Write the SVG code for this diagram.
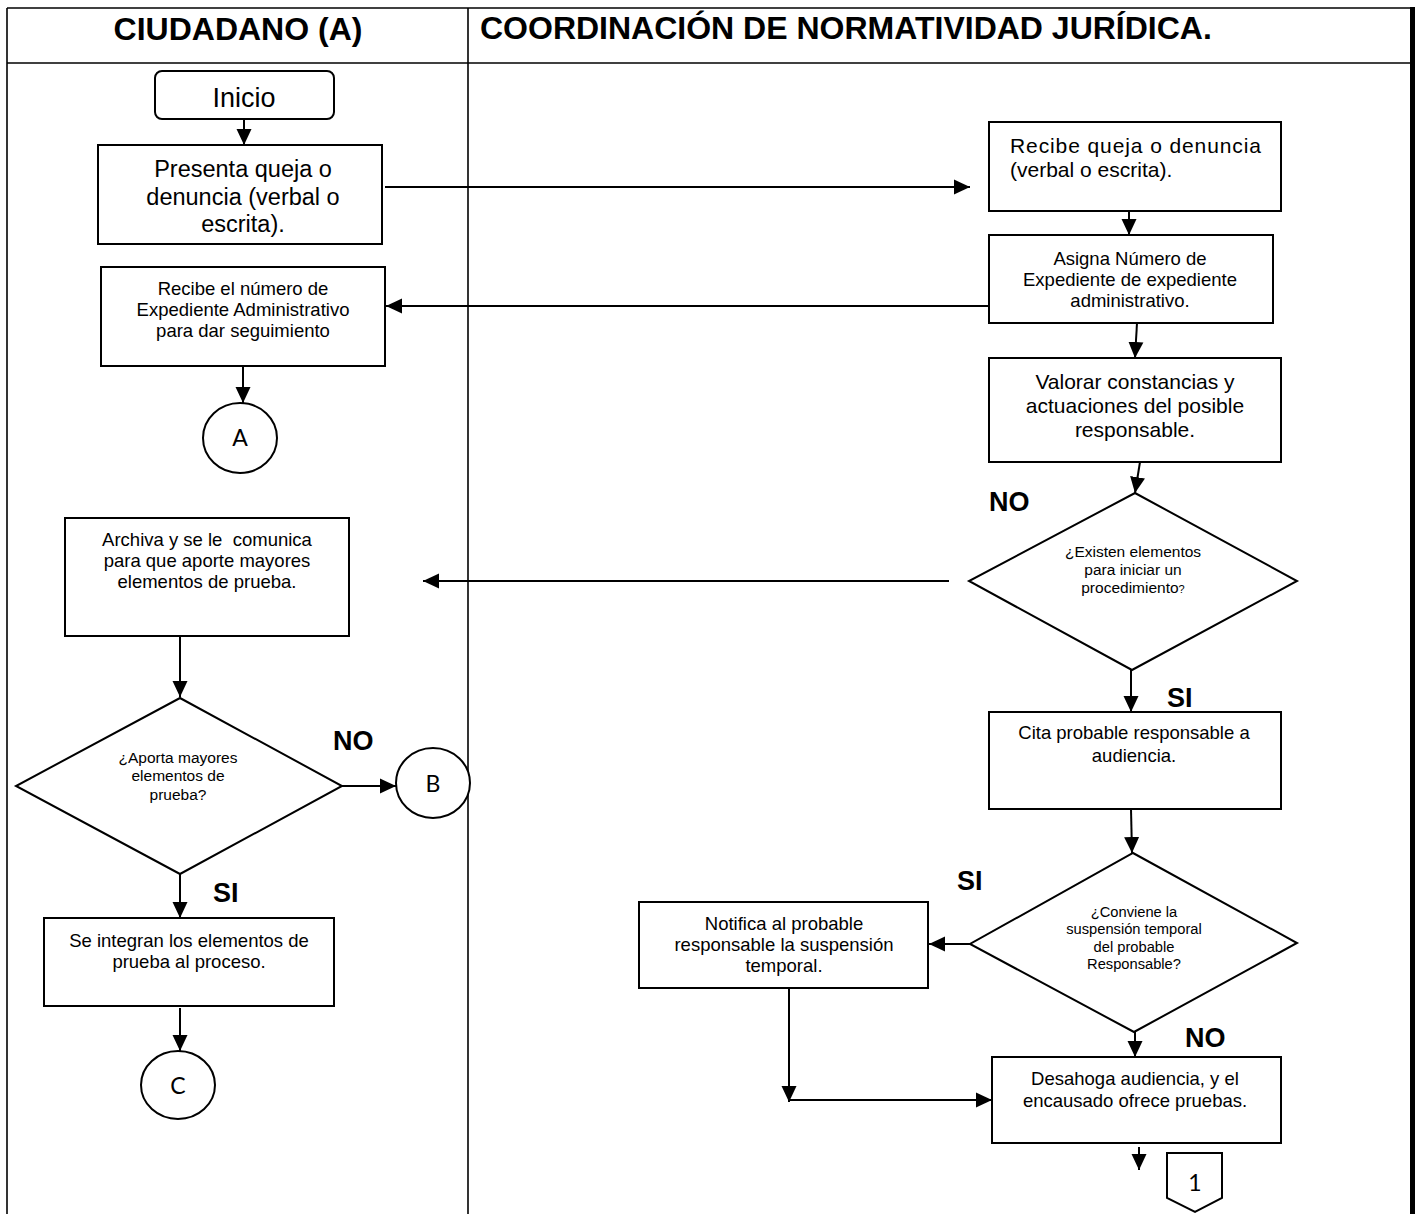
<svg xmlns="http://www.w3.org/2000/svg" width="1415" height="1214" viewBox="0 0 1415 1214">
<defs>
<marker id="ah" markerUnits="userSpaceOnUse" markerWidth="18" markerHeight="18" viewBox="0 0 18 18" refX="16" refY="9" orient="auto">
<path d="M0,1.5 L16,9 L0,16.5 z" fill="#000"/>
</marker>
</defs>
<style>
.frame{stroke:#000;stroke-width:1.6;fill:none}
.box{fill:#fff;stroke:#000;stroke-width:2}
.con{fill:none;stroke:#000;stroke-width:2;marker-end:url(#ah)}
.t{font-family:"Liberation Sans",Arial,sans-serif;fill:#000;text-anchor:middle}
.h{font-family:"Liberation Sans",Arial,sans-serif;font-weight:bold;font-size:32px;fill:#000}
.lbl{font-family:"Liberation Sans",Arial,sans-serif;font-weight:bold;font-size:27px;fill:#000}
.c{font-family:Lato,"Open Sans",sans-serif;font-size:23px;fill:#000;text-anchor:middle}
</style>
<rect width="1415" height="1214" fill="#fff"/>
<g id="frame">
<line class="frame" x1="7" y1="8" x2="1411" y2="8"/>
<line class="frame" x1="7" y1="63" x2="1411" y2="63"/>
<line class="frame" x1="7" y1="8" x2="7" y2="1214"/>
<line class="frame" x1="468" y1="8" x2="468" y2="1214"/>
<rect x="1410" y="7" width="5" height="1207" fill="#000"/>
<text class="h" x="238" y="40" text-anchor="middle">CIUDADANO (A)</text>
<text class="h" x="480" y="39">COORDINACIÓN DE NORMATIVIDAD JURÍDICA.</text>
</g>
<g id="connectors">
<line class="con" x1="244" y1="119" x2="244" y2="145"/>
<line class="con" x1="385" y1="187" x2="970" y2="187"/>
<line class="con" x1="1129" y1="211" x2="1129" y2="235"/>
<line class="con" x1="989" y1="306" x2="386" y2="306"/>
<line class="con" x1="243" y1="366" x2="243" y2="403"/>
<line class="con" x1="1137" y1="323" x2="1135" y2="358"/>
<line class="con" x1="1140" y1="462" x2="1135" y2="493"/>
<line class="con" x1="949" y1="581" x2="423" y2="581"/>
<line class="con" x1="1131" y1="670" x2="1131" y2="712"/>
<line class="con" x1="1131" y1="809" x2="1132" y2="853"/>
<line class="con" x1="970" y1="944" x2="929" y2="944"/>
<line class="con" x1="1135" y1="1032" x2="1135" y2="1057"/>
<line class="con" x1="789" y1="988" x2="789" y2="1102"/>
<line class="con" x1="789" y1="1100" x2="992" y2="1100"/>
<line class="con" x1="1139" y1="1147" x2="1139" y2="1170"/>
<line class="con" x1="180" y1="636" x2="180" y2="697"/>
<line class="con" x1="342" y1="786" x2="396" y2="786"/>
<line class="con" x1="180" y1="874" x2="180" y2="918"/>
<line class="con" x1="180" y1="1008" x2="180" y2="1051"/>
</g>
<g id="inicio">
<rect class="box" x="155" y="71" width="179" height="48" rx="7"/>
<text class="t" x="244" y="107" font-size="27">Inicio</text>
</g>
<g id="presenta">
<rect class="box" x="98" y="145" width="284" height="99"/>
<text class="t" font-size="23.5"><tspan x="243" y="177">Presenta queja o</tspan><tspan x="243" y="205">denuncia (verbal o</tspan><tspan x="243" y="232">escrita).</tspan></text>
</g>
<g id="recibe-numero">
<rect class="box" x="101" y="267" width="284" height="99"/>
<text class="t" font-size="18.5"><tspan x="243" y="295">Recibe el número de</tspan><tspan x="243" y="316">Expediente Administrativo</tspan><tspan x="243" y="337">para dar seguimiento</tspan></text>
</g>
<g id="conector-a">
<ellipse class="box" cx="240" cy="438" rx="37" ry="35"/>
<text class="c" x="240" y="446">A</text>
</g>
<g id="archiva">
<rect class="box" x="65" y="518" width="284" height="118"/>
<text class="t" font-size="18.5" style="white-space:pre"><tspan x="207" y="546">Archiva y se le  comunica</tspan><tspan x="207" y="567">para que aporte mayores</tspan><tspan x="207" y="588">elementos de prueba.</tspan></text>
</g>
<g id="decision-aporta">
<polygon class="box" points="180,698 342,786 180,874 16,786"/>
<text class="t" font-size="15.5"><tspan x="178" y="763">¿Aporta mayores</tspan><tspan x="178" y="781">elementos de</tspan><tspan x="178" y="800">prueba?</tspan></text>
<text class="lbl" x="333" y="750">NO</text>
<text class="lbl" x="213" y="902">SI</text>
</g>
<g id="conector-b">
<ellipse class="box" cx="433" cy="783" rx="37" ry="35"/>
<text class="c" x="433" y="792">B</text>
</g>
<g id="integran">
<rect class="box" x="44" y="918" width="290" height="88"/>
<text class="t" font-size="18.5"><tspan x="189" y="947">Se integran los elementos de</tspan><tspan x="189" y="968">prueba al proceso.</tspan></text>
</g>
<g id="conector-c">
<ellipse class="box" cx="178" cy="1085" rx="37" ry="34"/>
<text class="c" x="178" y="1094">C</text>
</g>
<g id="recibe-queja">
<rect class="box" x="989" y="122" width="292" height="89"/>
<text font-family="Liberation Sans, Arial, sans-serif" font-size="21" fill="#000"><tspan x="1010" y="153" textLength="251" lengthAdjust="spacing">Recibe  queja  o  denuncia</tspan><tspan x="1010" y="177">(verbal o escrita).</tspan></text>
</g>
<g id="asigna">
<rect class="box" x="989" y="235" width="284" height="88"/>
<text class="t" font-size="18.5"><tspan x="1130" y="265">Asigna Número de</tspan><tspan x="1130" y="286">Expediente de expediente</tspan><tspan x="1130" y="307">administrativo.</tspan></text>
</g>
<g id="valorar">
<rect class="box" x="989" y="358" width="292" height="104"/>
<text class="t" font-size="21"><tspan x="1135" y="389">Valorar constancias y</tspan><tspan x="1135" y="413">actuaciones del posible</tspan><tspan x="1135" y="437">responsable.</tspan></text>
</g>
<g id="decision-existen">
<polygon class="box" points="1135,493 1297,581 1132,670 969,581"/>
<text class="t" font-size="15.5"><tspan x="1133" y="557">¿Existen elementos</tspan><tspan x="1133" y="575">para iniciar un</tspan><tspan x="1133" y="593">procedimiento<tspan font-size="11">?</tspan></tspan></text>
<text class="lbl" x="989" y="511">NO</text>
<text class="lbl" x="1167" y="707">SI</text>
</g>
<g id="cita">
<rect class="box" x="989" y="712" width="292" height="97"/>
<text class="t" font-size="18.5"><tspan x="1134" y="739">Cita probable responsable a</tspan><tspan x="1134" y="762">audiencia.</tspan></text>
</g>
<g id="decision-conviene">
<polygon class="box" points="1133,853 1297,943 1134,1032 970,944"/>
<text class="t" font-size="14.7"><tspan x="1134" y="917">¿Conviene la</tspan><tspan x="1134" y="934">suspensión temporal</tspan><tspan x="1134" y="952">del probable</tspan><tspan x="1134" y="969">Responsable?</tspan></text>
<text class="lbl" x="957" y="890">SI</text>
<text class="lbl" x="1185" y="1047">NO</text>
</g>
<g id="notifica">
<rect class="box" x="639" y="902" width="289" height="86"/>
<text class="t" font-size="18.5"><tspan x="784" y="930">Notifica al probable</tspan><tspan x="784" y="951">responsable la suspensión</tspan><tspan x="784" y="972">temporal.</tspan></text>
</g>
<g id="desahoga">
<rect class="box" x="992" y="1057" width="289" height="86"/>
<text class="t" font-size="18.5"><tspan x="1135" y="1085">Desahoga audiencia, y el</tspan><tspan x="1135" y="1107">encausado ofrece pruebas.</tspan></text>
</g>
<g id="conector-1">
<polygon class="box" points="1167,1153 1222,1153 1222,1198 1195,1212 1167,1198"/>
<text class="c" x="1195" y="1191">1</text>
</g>
</svg>
